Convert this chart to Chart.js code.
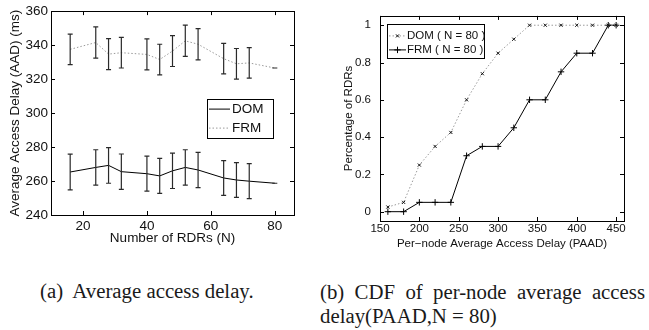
<!DOCTYPE html>
<html>
<head>
<meta charset="utf-8">
<script src="https://cdn.jsdelivr.net/npm/chart.js@4.4.1/dist/chart.umd.min.js"></script>
<style>
body { margin: 0; background: #fff; width: 649px; height: 330px; position: relative; overflow: hidden; }
#graficoA { position: absolute; left: 0; top: 0; }
#graficoB { position: absolute; left: 320px; top: 0; }
.pie { position: absolute; font-family: "Liberation Serif", "Times New Roman", serif; font-size: 20.8px; line-height: 24px; color: #1a1a1a; }
#pieA { left: 40px; top: 279px; white-space: pre; }
#pieB { left: 320px; top: 280px; width: 325px; text-align: justify; }
</style>
</head>
<body>
<canvas id="graficoA" width="320" height="260"></canvas>
<canvas id="graficoB" width="329" height="260"></canvas>
<div class="pie" id="pieA">(a)  Average access delay.</div>
<div class="pie" id="pieB">(b) CDF of per-node average access delay(PAAD,N = 80)</div>
<script>
// Figura (a): retardo medio de acceso vs numero de RDRs
const numRDRs = [16, 24, 28, 32, 40, 44, 48, 52, 56, 64, 68, 72, 80];
const aadDOM = [265.3, 268, 269.2, 265.5, 264.3, 263, 266, 268, 266.5, 261.8, 260.6, 259.9, 258.7];
const errDOM = [10.5, 10.4, 10.5, 10.4, 10.3, 10.3, 10.4, 10.4, 10.4, 10.2, 10.2, 10.3, 0];
const aadFRM = [337.5, 341.5, 334.7, 335.5, 334.5, 331.5, 336.5, 342.5, 340.5, 332, 329, 329.5, 326.5];
const errFRM = [9, 9.2, 9.1, 9, 9.1, 9, 9.1, 9.2, 9.2, 9, 9, 9, 0];
const ticksXA = [20, 40, 60, 80];
const ticksYA = [240, 260, 280, 300, 320, 340, 360];

// Figura (b): CDF del retardo medio por nodo (N = 80)
const paad = [160, 180, 200, 220, 240, 260, 280, 300, 320, 340, 360, 380, 400, 420, 440, 450];
const cdfDOM = [0.025, 0.05, 0.25, 0.35, 0.425, 0.6, 0.74, 0.85, 0.925, 1, 1, 1, 1, 1, 1, 1];
const cdfFRM = [0, 0, 0.05, 0.05, 0.05, 0.3, 0.35, 0.35, 0.45, 0.6, 0.6, 0.75, 0.85, 0.85, 1, 1];
const ticksXB = [150, 200, 250, 300, 350, 400, 450];
const ticksYB = [0, 0.2, 0.4, 0.6, 0.8, 1];

Chart.defaults.font.family = '"Liberation Sans", Arial, sans-serif';
Chart.defaults.color = '#111';

const aPuntos = (xs, ys) => xs.map((x, i) => ({ x, y: ys[i] }));

// Marco con ticks hacia dentro (estilo MATLAB)
const pluginMarco = {
    id: 'marco',
    afterDatasetsDraw(chart) {
        const { ctx, chartArea: a, scales: { x, y } } = chart;
        ctx.save();
        ctx.strokeStyle = '#000';
        ctx.lineWidth = 1;
        ctx.beginPath();
        x.ticks.forEach(t => {
            const px = Math.round(x.getPixelForValue(t.value)) + 0.5;
            ctx.moveTo(px, a.bottom); ctx.lineTo(px, a.bottom - 4);
            ctx.moveTo(px, a.top); ctx.lineTo(px, a.top + 4);
        });
        y.ticks.forEach(t => {
            const py = Math.round(y.getPixelForValue(t.value)) + 0.5;
            ctx.moveTo(a.left, py); ctx.lineTo(a.left + 4, py);
            ctx.moveTo(a.right, py); ctx.lineTo(a.right - 4, py);
        });
        ctx.stroke();
        ctx.strokeRect(Math.round(a.left) + 0.5, Math.round(a.top) + 0.5, Math.round(a.width), Math.round(a.height));
        ctx.restore();
    }
};

// Barras de error a partir de ds.errores
const pluginErrores = {
    id: 'errores',
    afterDatasetsDraw(chart) {
        const { ctx, scales: { x, y } } = chart;
        ctx.save();
        chart.data.datasets.forEach(ds => {
            if (!ds.errores) return;
            ctx.strokeStyle = ds.colorError;
            ctx.lineWidth = 1.2;
            ds.data.forEach((p, i) => {
                const px = x.getPixelForValue(p.x);
                const y1 = y.getPixelForValue(p.y + ds.errores[i]);
                const y2 = y.getPixelForValue(p.y - ds.errores[i]);
                ctx.beginPath();
                ctx.moveTo(px, y1); ctx.lineTo(px, y2);
                ctx.moveTo(px - 2.5, y1); ctx.lineTo(px + 2.5, y1);
                ctx.moveTo(px - 2.5, y2); ctx.lineTo(px + 2.5, y2);
                ctx.stroke();
            });
        });
        ctx.restore();
    }
};

// Leyenda con caja, dibujada dentro del area del grafico
function pluginLeyenda(cfg) {
    return {
        id: 'leyenda',
        afterDraw(chart) {
            const { ctx, chartArea: a } = chart;
            const bx = a.left + cfg.dx, by = a.top + cfg.dy;
            ctx.save();
            ctx.fillStyle = '#fff';
            ctx.fillRect(bx, by, cfg.w, cfg.h);
            ctx.strokeStyle = '#000';
            ctx.lineWidth = 1;
            ctx.strokeRect(Math.round(bx) + 0.5, Math.round(by) + 0.5, cfg.w, cfg.h);
            chart.data.datasets.forEach((ds, i) => {
                const ly = by + cfg.filas[i];
                ctx.strokeStyle = ds.borderColor;
                ctx.lineWidth = ds.borderWidth;
                ctx.setLineDash(ds.borderDash || []);
                ctx.beginPath();
                ctx.moveTo(bx + cfg.linea[0], ly);
                ctx.lineTo(bx + cfg.linea[1], ly);
                ctx.stroke();
                ctx.setLineDash([]);
                if (ds.pointRadius > 0) {
                    ctx.strokeStyle = ds.pointBorderColor;
                    Chart.helpers.drawPoint(ctx, {
                        pointStyle: ds.pointStyle, radius: ds.pointRadius, borderWidth: 1, rotation: 0
                    }, bx + (cfg.linea[0] + cfg.linea[1]) / 2, ly);
                }
                ctx.fillStyle = '#111';
                ctx.font = cfg.fuente + 'px "Liberation Sans", Arial, sans-serif';
                ctx.textBaseline = 'middle';
                ctx.fillText(ds.label, bx + cfg.texto, ly);
            });
            ctx.restore();
        }
    };
}

function escala(min, max, marcas, fmt, tam, padTick, titulo, padTitulo, tamEje, horizontal) {
    return {
        type: 'linear', min, max,
        grid: { display: false, drawTicks: false },
        border: { display: false },
        afterBuildTicks: s => { s.ticks = marcas.map(v => ({ value: v })); },
        afterFit: s => { if (horizontal) s.height = tamEje; else s.width = tamEje; },
        ticks: { font: { size: tam }, color: '#111', padding: padTick, maxRotation: 0, callback: fmt },
        title: { display: true, text: titulo, font: { size: tam }, color: '#111', padding: padTitulo }
    };
}

new Chart(document.getElementById('graficoA').getContext('2d'), {
    type: 'line',
    data: {
        datasets: [
            { label: 'DOM', data: aPuntos(numRDRs, aadDOM), errores: errDOM, colorError: '#2a2a2a',
              borderColor: '#000', borderWidth: 1, pointRadius: 0, tension: 0 },
            { label: 'FRM', data: aPuntos(numRDRs, aadFRM), errores: errFRM, colorError: '#2a2a2a',
              borderColor: '#9a9a9a', borderWidth: 1, borderDash: [1.5, 2], pointRadius: 0, tension: 0 }
        ]
    },
    options: {
        responsive: false, animation: false,
        layout: { padding: { top: 10, right: 26, left: 0, bottom: 0 } },
        plugins: { legend: { display: false }, tooltip: { enabled: false } },
        scales: {
            x: escala(10, 86, ticksXA, v => v, 13.5, 3, 'Number of RDRs (N)', { top: 0, bottom: 13.5 }, 45, true),
            y: escala(240, 360, ticksYA, v => v, 13.5, 3, 'Average Access Delay (AAD) (ms)', { top: 7, bottom: 0 }, 51, false)
        }
    },
    plugins: [pluginErrores, pluginMarco,
        pluginLeyenda({ dx: 156, dy: 88, w: 66, h: 39, filas: [10, 29], linea: [2, 23], texto: 25, fuente: 13.5 })]
});

new Chart(document.getElementById('graficoB').getContext('2d'), {
    type: 'line',
    data: {
        datasets: [
            { label: 'DOM ( N = 80 )', data: aPuntos(paad, cdfDOM), borderColor: '#9a9a9a', borderWidth: 1,
              borderDash: [1.5, 2], pointStyle: 'crossRot', pointRadius: 2.2, pointBorderColor: '#111',
              pointBorderWidth: 1, tension: 0 },
            { label: 'FRM ( N = 80 )', data: aPuntos(paad, cdfFRM), borderColor: '#000', borderWidth: 1,
              pointStyle: 'cross', pointRadius: 3.2, pointBorderColor: '#000', pointBorderWidth: 1, tension: 0 }
        ]
    },
    options: {
        responsive: false, animation: false,
        layout: { padding: { top: 15, right: 25, left: 0, bottom: 0 } },
        plugins: { legend: { display: false }, tooltip: { enabled: false } },
        scales: {
            x: escala(150, 460, ticksXB, v => v, 11.5, 1, 'Per\u2212node Average Access Delay (PAAD)', { top: 0, bottom: 9 }, 39, true),
            y: escala(-0.05, 1.05, ticksYB, v => String(+v.toFixed(1)), 11.5, 9, 'Percentage of RDRs', { top: 22, bottom: 0 }, 60, false)
        }
    },
    plugins: [pluginMarco,
        pluginLeyenda({ dx: 7, dy: 8, w: 97, h: 34, filas: [12, 26], linea: [2, 19], texto: 20, fuente: 11.5 })]
});
</script>
</body>
</html>
